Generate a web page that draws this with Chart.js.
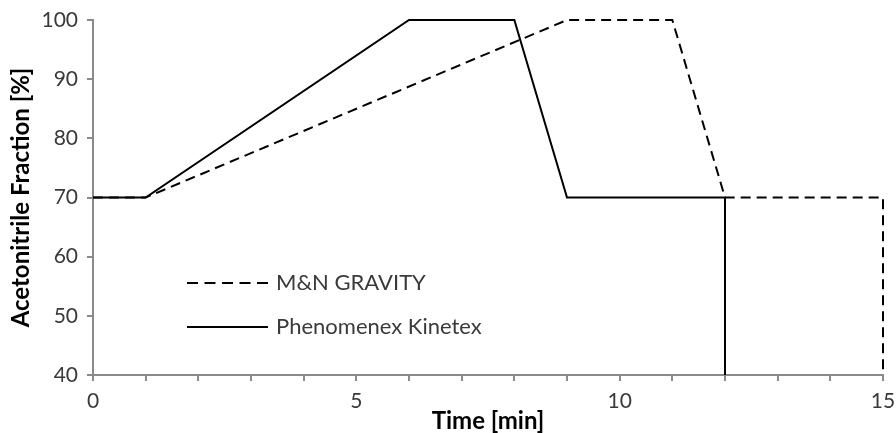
<!DOCTYPE html>
<html>
<head>
<meta charset="utf-8">
<script src="https://cdn.jsdelivr.net/npm/chart.js@4/dist/chart.umd.min.js"></script>
<style>
  html, body { margin: 0; padding: 0; background: #fff; }
  #wrap { width: 896px; height: 433px; }
</style>
</head>
<body>
<div id="wrap"><canvas id="chart" width="896" height="433"></canvas></div>
<script>
// series data (time in min, acetonitrile fraction in %)
const seriesNames = ['M&N GRAVITY', 'Phenomenex Kinetex'];
const timeGravity = [0, 1, 9, 11, 12, 15, 15];
const gravity     = [70, 70, 100, 100, 70, 70, 40];
const timeKinetex = [0, 1, 6, 8, 9, 12, 12];
const kinetex     = [70, 70, 100, 100, 70, 70, 40];
const xLabels = [0, 5, 10, 15];

const FONT = 'Lato, "Open Sans", sans-serif';
const AXIS_GRAY = '#8a8a8a';
const TEXT = '#3a3a3a';

function toPoints(xs, ys) {
  return xs.map((x, i) => ({ x: x, y: ys[i] }));
}

// legend drawn inside the plot area, bottom-left
const innerLegend = {
  id: 'innerLegend',
  afterDraw(chart) {
    const ctx = chart.ctx;
    const rows = [283, 327];
    ctx.save();
    chart.data.datasets.forEach((ds, i) => {
      const y = rows[i];
      ctx.beginPath();
      ctx.setLineDash(ds.borderDash ? [11, 6.5] : []);
      ctx.lineWidth = 2;
      ctx.strokeStyle = '#000';
      ctx.moveTo(187, y);
      ctx.lineTo(268, y);
      ctx.stroke();
      ctx.setLineDash([]);
      ctx.fillStyle = TEXT;
      ctx.font = '22px ' + FONT;
      ctx.textBaseline = 'middle';
      ctx.textAlign = 'left';
      ctx.fillText(ds.label, 276, y);
    });
    ctx.restore();
  }
};

new Chart(document.getElementById('chart'), {
  type: 'line',
  data: {
    datasets: [
      {
        label: seriesNames[0],
        data: toPoints(timeGravity, gravity),
        borderColor: '#000',
        borderWidth: 2,
        borderDash: [10, 6],
        pointRadius: 0,
        tension: 0,
        clip: false
      },
      {
        label: seriesNames[1],
        data: toPoints(timeKinetex, kinetex),
        borderColor: '#000',
        borderWidth: 2,
        pointRadius: 0,
        tension: 0,
        clip: false
      }
    ]
  },
  options: {
    responsive: false,
    animation: false,
    layout: { padding: { top: 20, right: 13, left: 0, bottom: 0 } },
    plugins: {
      legend: { display: false },
      tooltip: { enabled: false }
    },
    scales: {
      x: {
        type: 'linear',
        min: 0,
        max: 15,
        afterFit(scale) {
          scale.height = 58;
          scale.paddingLeft = 0;
          scale.paddingRight = 0;
        },
        border: { color: AXIS_GRAY, width: 2 },
        grid: { drawOnChartArea: false, drawTicks: true, tickLength: 6, color: AXIS_GRAY, lineWidth: 2 },
        ticks: {
          stepSize: 1,
          autoSkip: false,
          maxRotation: 0,
          padding: 8,
          color: TEXT,
          font: { family: FONT, size: 21 },
          callback: (v) => xLabels.includes(v) ? String(v) : ''
        },
        title: {
          display: true,
          text: 'Time [min]',
          color: '#000',
          font: { family: FONT, size: 24, weight: 'bold', lineHeight: 1 },
          padding: { top: 0, bottom: 0 }
        }
      },
      y: {
        min: 40,
        max: 100,
        afterFit(scale) {
          scale.width = 93;
          scale.paddingTop = 0;
          scale.paddingBottom = 0;
        },
        border: { color: AXIS_GRAY, width: 2 },
        grid: { drawOnChartArea: false, drawTicks: true, tickLength: 6, color: AXIS_GRAY, lineWidth: 2 },
        ticks: {
          stepSize: 10,
          padding: 9,
          color: TEXT,
          font: { family: FONT, size: 21 }
        },
        title: {
          display: true,
          text: 'Acetonitrile Fraction [%]',
          color: '#000',
          font: { family: FONT, size: 24, weight: 'bold', lineHeight: 1 },
          padding: { top: 9, bottom: 0 }
        }
      }
    }
  },
  plugins: [innerLegend]
});
</script>
</body>
</html>
